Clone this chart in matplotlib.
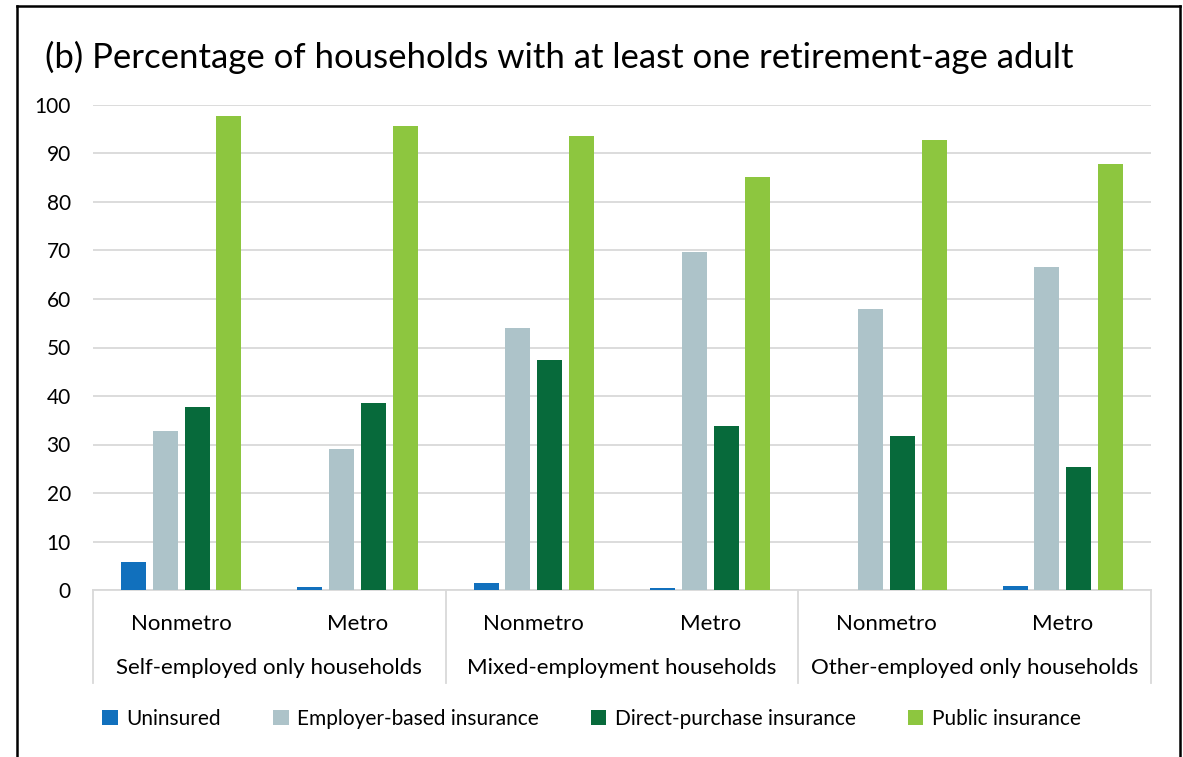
import numpy as np
import matplotlib
matplotlib.use("Agg")
import matplotlib.pyplot as plt
from matplotlib.lines import Line2D
import matplotlib.transforms as mtransforms

plt.rcParams['font.family'] = ['Lato', 'DejaVu Sans']

areas = ["Nonmetro", "Metro", "Nonmetro", "Metro", "Nonmetro", "Metro"]
groups = ["Self-employed only households", "Mixed-employment households",
          "Other-employed only households"]
series = ["Uninsured", "Employer-based insurance", "Direct-purchase insurance",
          "Public insurance"]
uninsured = [5.7, 0.6, 1.4, 0.5, 0.0, 0.9]
employer = [32.8, 29.0, 54.0, 69.7, 58.0, 66.6]
direct = [37.8, 38.6, 47.5, 33.9, 31.7, 25.4]
public = [97.8, 95.7, 93.6, 85.1, 92.8, 87.8]
colors = ["#1170BD", "#ADC3C9", "#076A3B", "#8DC63F"]

W, H = 1183, 757
fig = plt.figure(figsize=(W / 100, H / 100), dpi=100)
ax = fig.add_axes([93 / W, 1 - 590 / H, (1151 - 93) / W, (590 - 105) / H])

x = np.arange(len(areas))
step = 0.18
width = 0.142
for i, (vals, name, c) in enumerate(zip([uninsured, employer, direct, public], series, colors)):
    ax.bar(x + (i - 1.5) * step, vals, width, color=c, label=name, zorder=3)

ax.set_xlim(-0.5, len(areas) - 0.5)
ax.set_ylim(0, 100)
ax.set_yticks(range(0, 101, 10))
ax.yaxis.grid(True, color="#D9D9D9", linewidth=1.3, zorder=0)
for s in ["top", "right", "left"]:
    ax.spines[s].set_visible(False)
ax.spines["bottom"].set_color("#D9D9D9")
ax.spines["bottom"].set_linewidth(1.3)
ax.tick_params(axis="y", length=0, pad=16, labelsize=15)
ax.tick_params(axis="x", length=0, pad=17, labelsize=16)
ax.set_xticks(x)
ax.set_xticklabels(areas)

trans = mtransforms.blended_transform_factory(ax.transData, ax.transAxes)
sep_bottom = -(683 - 590) / (590 - 105)
for b in [-0.5, 1.5, 3.5, 5.5]:
    ax.plot([b, b], [0, sep_bottom], color="#D9D9D9", linewidth=1.3,
            transform=trans, clip_on=False)
for j, g in enumerate(groups):
    ax.text(2 * j + 0.5, -(668 - 590) / (590 - 105), g, transform=trans,
            ha="center", va="center", fontsize=16)

fig.text(45 / W, 1 - 57 / H, "(b) Percentage of households with at least one retirement-age adult",
         ha="left", va="center", fontsize=25)

fig.legend(loc="center", bbox_to_anchor=(0.5, 1 - 719 / H), ncol=4, frameon=False,
           fontsize=15, handlelength=0.75, handleheight=0.75, handletextpad=0.4,
           columnspacing=2.5)

# black frame around chart
for xs, ys in [([17 / W, 17 / W], [0, 1 - 6 / H]),
               ([17 / W, 1180 / W], [1 - 6 / H, 1 - 6 / H]),
               ([1180 / W, 1180 / W], [1 - 6 / H, 0])]:
    fig.add_artist(Line2D(xs, ys, color="black", linewidth=1.8, transform=fig.transFigure))

fig.savefig("out.png", dpi=100)
